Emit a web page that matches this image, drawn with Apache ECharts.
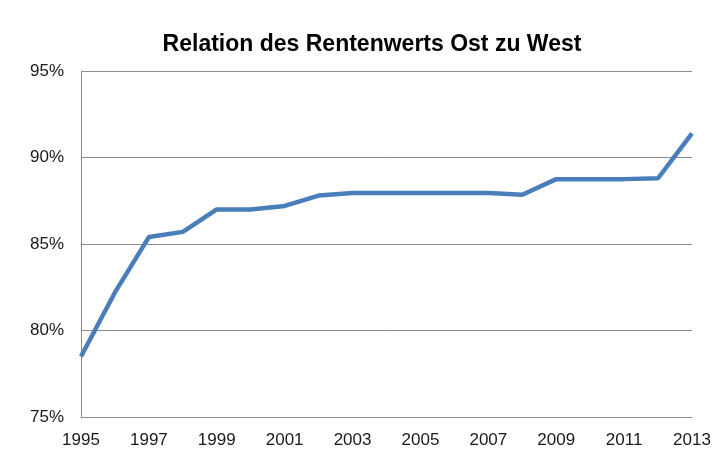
<!DOCTYPE html>
<html>
<head>
<meta charset="utf-8">
<script src="https://cdn.jsdelivr.net/npm/echarts@6/dist/echarts.min.js"></script>
<style>
  html, body { margin: 0; padding: 0; background: #fff; }
  #chart { width: 716px; height: 452px; }
</style>
</head>
<body>
<div id="chart"></div>
<script>
const years = ['1995', '1996', '1997', '1998', '1999', '2000', '2001', '2002', '2003', '2004',
  '2005', '2006', '2007', '2008', '2009', '2010', '2011', '2012', '2013']
// Rentenwert Ost in % of West
const ratio = [78.5, 82.2, 85.4, 85.7, 87.0, 87.0, 87.2, 87.8, 87.95, 87.95,
  87.95, 87.95, 87.95, 87.85, 88.75, 88.75, 88.75, 88.8, 91.4]
const yTicks = [75, 80, 85, 90, 95]

const chart = echarts.init(document.getElementById('chart'))
chart.setOption({
  animation: false,
  title: {
    text: 'Relation des Rentenwerts Ost zu West',
    left: 367,
    textAlign: 'center',
    top: 28,
    textStyle: { fontFamily: 'Liberation Sans, Arial', fontSize: 23, fontWeight: 'bold', color: '#000' }
  },
  grid: { left: 81, right: 24, top: 71, bottom: 35 },
  xAxis: {
    type: 'category',
    data: years,
    boundaryGap: false,
    axisLine: { lineStyle: { color: '#8c8c8c', width: 1 } },
    axisTick: { show: false },
    axisLabel: {
      interval: 1,
      margin: 15,
      color: '#1a1a1a',
      fontFamily: 'Liberation Sans, Arial',
      fontSize: 17
    }
  },
  yAxis: {
    type: 'value',
    min: yTicks[0],
    max: yTicks[yTicks.length - 1],
    interval: 5,
    axisLine: { show: true, lineStyle: { color: '#8c8c8c', width: 1 } },
    axisTick: { show: false },
    splitLine: { lineStyle: { color: '#8c8c8c', width: 1 } },
    axisLabel: {
      margin: 17,
      color: '#1a1a1a',
      fontFamily: 'Liberation Sans, Arial',
      fontSize: 17,
      formatter: '{value}%'
    }
  },
  series: [{
    type: 'line',
    data: ratio,
    symbol: 'none',
    lineStyle: { color: '#4a7ebb', width: 4.5 }
  }]
})
</script>
</body>
</html>
